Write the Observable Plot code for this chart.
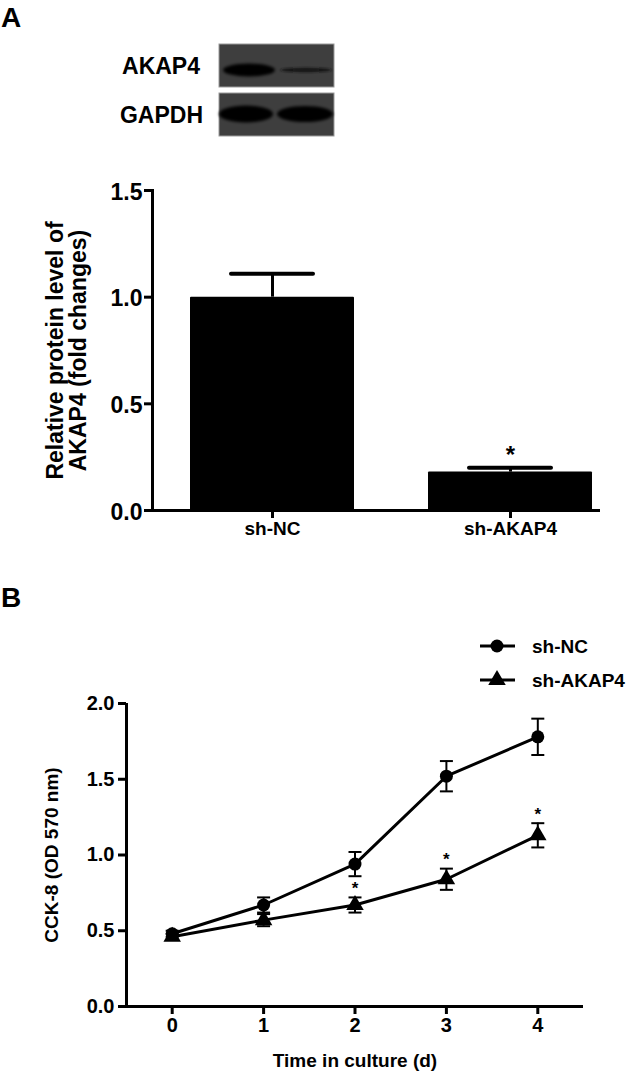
<!DOCTYPE html>
<html>
<head>
<meta charset="utf-8">
<script src="https://cdn.jsdelivr.net/npm/d3@7"></script>
<script src="https://cdn.jsdelivr.net/npm/@observablehq/plot@0.6"></script>
<style>
  html, body { margin: 0; padding: 0; background: white; }
  #page { position: relative; width: 633px; height: 1072px; overflow: hidden; font-family: "Liberation Sans", Arial, sans-serif; }
  #chartA { position: absolute; left: 0; top: 160px; }
  #chartB { position: absolute; left: 0; top: 620px; }
  #overlay { position: absolute; left: 0; top: 0; pointer-events: none; }
</style>
</head>
<body>
<div id="page">
  <div id="chartA"></div>
  <div id="chartB"></div>
  <svg id="overlay" width="633" height="1072"></svg>
</div>
<script>
// ---------- DATA ----------
// Panel A: relative protein level of AKAP4
const catsA = ["sh-NC", "sh-AKAP4"];
const meanA = [1.0, 0.18];
const semA = [0.11, 0.02];
const sigA = ["", "*"];
const yTicksA = [0, 0.5, 1.0, 1.5];

// Panel B: CCK-8 proliferation
const days = [0, 1, 2, 3, 4];
const ncMean = [0.48, 0.67, 0.94, 1.52, 1.78];
const ncErr = [0.02, 0.05, 0.08, 0.10, 0.12];
const akMean = [0.46, 0.57, 0.67, 0.84, 1.13];
const akErr = [0.02, 0.04, 0.05, 0.07, 0.08];
const akSig = ["", "", "*", "*", "*"];
const yTicksB = [0, 0.5, 1.0, 1.5, 2.0];
const seriesNames = ["sh-NC", "sh-AKAP4"];
const blotLabels = ["AKAP4", "GAPDH"];

// ---------- TABLES ----------
const dataA = catsA.map((c, i) => ({cat: c, mean: meanA[i], sem: semA[i], sig: sigA[i]}));
const dataB = [
  ...days.map((d, i) => ({day: d, mean: ncMean[i], err: ncErr[i], sig: "", series: seriesNames[0]})),
  ...days.map((d, i) => ({day: d, mean: akMean[i], err: akErr[i], sig: akSig[i], series: seriesNames[1]}))
];
const nc = dataB.filter(d => d.series === seriesNames[0]);
const ak = dataB.filter(d => d.series === seriesNames[1]);

const font = "'Liberation Sans', Arial, sans-serif";
const baseStyle = {fontFamily: font, fontWeight: "bold", fontSize: "19px", color: "black", background: "transparent", overflow: "visible"};

// horizontal cap symbol for error bars
const capSymbol = {
  draw(context, size) {
    const w = Math.sqrt(size / Math.PI);
    context.moveTo(-w, 0);
    context.lineTo(w, 0);
  }
};

// enlarge tick label text (matched by its text content)
function setTickFont(svg, labels, size) {
  const set = new Set(labels);
  svg.querySelectorAll("text").forEach(t => {
    if (set.has(t.textContent)) {
      t.setAttribute("font-size", size);
      t.style.fontSize = size + "px";
    }
  });
}
const fmt = d3.format(".1f");

// ---------- PANEL A ----------
const chartA = Plot.plot({
  width: 633,
  height: 400,
  marginTop: 30,
  marginBottom: 50,
  marginLeft: 152,
  marginRight: 33,
  style: baseStyle,
  x: {domain: catsA, range: [190, 592], paddingInner: 0.311, paddingOuter: 0},
  y: {domain: [0, 1.5]},
  marks: [
    Plot.ruleX(dataA, {x: "cat", y1: "mean", y2: d => d.mean + d.sem, stroke: "black", strokeWidth: 3}),
    Plot.tickY(dataA, {x: "cat", y: d => d.mean + d.sem, stroke: "black", strokeWidth: 4, strokeLinecap: "round", insetLeft: 41, insetRight: 41}),
    Plot.rectY(dataA, {x: "cat", y: "mean", fill: "black", rx: 1}),
    Plot.text(dataA, {x: "cat", y: d => d.mean + d.sem, text: "sig", dy: -13, fontSize: 24, fontWeight: "bold"}),
    Plot.ruleY([0], {stroke: "black", strokeWidth: 3}),
    Plot.frame({anchor: "left", stroke: "black", strokeWidth: 3}),
    Plot.axisY({
      ticks: yTicksA, tickSize: 8, strokeWidth: 3, tickPadding: 2,
      tickFormat: fmt, fontSize: 23, fontWeight: "bold",
      label: "Relative protein level of\nAKAP4 (fold changes)", labelArrow: false,
      labelAnchor: "center", labelOffset: 106, lineHeight: 1.26
    }),
    Plot.axisX({tickSize: 8, strokeWidth: 3, tickPadding: 3, label: null, fontSize: 19, fontWeight: "bold"})
  ]
});
setTickFont(chartA, yTicksA.map(fmt), 23);
setTickFont(chartA, catsA, 19);
document.getElementById("chartA").appendChild(chartA);

// ---------- PANEL B ----------
const chartB = Plot.plot({
  width: 633,
  height: 452,
  marginTop: 83,
  marginBottom: 66,
  marginLeft: 126,
  marginRight: 50,
  style: baseStyle,
  x: {domain: [-0.5, 4.5]},
  y: {domain: [0, 2]},
  marks: [
    Plot.ruleX([-0.5], {stroke: "black", strokeWidth: 3}),
    Plot.ruleY([0], {stroke: "black", strokeWidth: 3}),
    Plot.axisY({
      ticks: yTicksB, tickSize: 8, strokeWidth: 3, tickPadding: 4,
      tickFormat: fmt, fontSize: 19, fontWeight: "bold",
      label: "CCK-8 (OD 570 nm)", labelArrow: false, labelAnchor: "center", labelOffset: 82
    }),
    Plot.axisX({
      ticks: days, tickSize: 8, strokeWidth: 3, tickPadding: 3,
      tickFormat: d => String(d), fontSize: 19, fontWeight: "bold",
      label: "Time in culture (d)", labelArrow: false, labelAnchor: "center", labelOffset: 60
    }),
    // error bars
    Plot.ruleX(dataB, {x: "day", y1: d => d.mean - d.err, y2: d => d.mean + d.err, stroke: "black", strokeWidth: 2}),
    Plot.dot(dataB, {x: "day", y: d => d.mean + d.err, symbol: capSymbol, r: 6.5, fill: "none", stroke: "black", strokeWidth: 2}),
    Plot.dot(dataB, {x: "day", y: d => d.mean - d.err, symbol: capSymbol, r: 6.5, fill: "none", stroke: "black", strokeWidth: 2}),
    // lines
    Plot.line(nc, {x: "day", y: "mean", stroke: "black", strokeWidth: 3}),
    Plot.line(ak, {x: "day", y: "mean", stroke: "black", strokeWidth: 3}),
    // markers
    Plot.dot(nc, {x: "day", y: "mean", symbol: "circle", r: 6.5, fill: "black", stroke: "none"}),
    Plot.dot(ak, {x: "day", y: "mean", symbol: "triangle", r: 6.5, fill: "black", stroke: "none"}),
    // significance
    Plot.text(ak, {x: "day", y: d => d.mean + d.err, text: "sig", dy: -9, fontSize: 17, fontWeight: "bold"})
  ]
});
setTickFont(chartB, yTicksB.map(fmt), 20);
setTickFont(chartB, days.map(String), 20);
document.getElementById("chartB").appendChild(chartB);

// ---------- OVERLAY: panel letters, blot, legend ----------
const ov = d3.select("#overlay").style("font-family", font).style("font-weight", "bold");

ov.append("text").attr("x", 1).attr("y", 27).attr("font-size", 28).text("A");
ov.append("text").attr("x", 1).attr("y", 607).attr("font-size", 28).text("B");

// Western blot image
const defs = ov.append("defs");
defs.append("filter").attr("id", "blur").attr("x", "-20%").attr("y", "-50%").attr("width", "140%").attr("height", "200%")
  .append("feGaussianBlur").attr("stdDeviation", 1.6);
defs.append("filter").attr("id", "blur2").attr("x", "-20%").attr("y", "-100%").attr("width", "140%").attr("height", "300%")
  .append("feGaussianBlur").attr("stdDeviation", 1.0);

const boxes = [{y: 44, h: 43}, {y: 93, h: 43}];
boxes.forEach((b, i) => {
  ov.append("rect").attr("x", 219).attr("y", b.y).attr("width", 115).attr("height", b.h)
    .attr("fill", "#3e3e3e").attr("stroke", "#9a9a9a").attr("stroke-width", 1);
  ov.append("text").attr("x", i === 0 ? 200 : 203).attr("y", b.y + b.h / 2 + 8)
    .attr("text-anchor", "end").attr("font-size", 23).text(blotLabels[i]);
});
// AKAP4 bands
ov.append("ellipse").attr("cx", 249).attr("cy", 70).attr("rx", 26).attr("ry", 6.5).attr("fill", "#050505").attr("filter", "url(#blur)");
ov.append("ellipse").attr("cx", 306).attr("cy", 70).attr("rx", 26).attr("ry", 2.2).attr("fill", "#151515").attr("filter", "url(#blur2)");
// GAPDH bands
ov.append("ellipse").attr("cx", 246).attr("cy", 114).attr("rx", 27).attr("ry", 8.5).attr("fill", "#000").attr("filter", "url(#blur)");
ov.append("ellipse").attr("cx", 305).attr("cy", 114).attr("rx", 28).attr("ry", 8).attr("fill", "#000").attr("filter", "url(#blur)");

// Legend
const legendRows = [{name: seriesNames[0], sym: d3.symbolCircle, r: 6.5, y: 646}, {name: seriesNames[1], sym: d3.symbolTriangle, r: 6.5, y: 680}];
legendRows.forEach(row => {
  ov.append("line").attr("x1", 480).attr("x2", 515).attr("y1", row.y).attr("y2", row.y).attr("stroke", "black").attr("stroke-width", 3);
  ov.append("path").attr("transform", `translate(497,${row.y})`)
    .attr("d", d3.symbol(row.sym, Math.PI * row.r * row.r)()).attr("fill", "black");
  ov.append("text").attr("x", 532).attr("y", row.y + 6.5).attr("font-size", 19).text(row.name);
});
</script>
</body>
</html>
